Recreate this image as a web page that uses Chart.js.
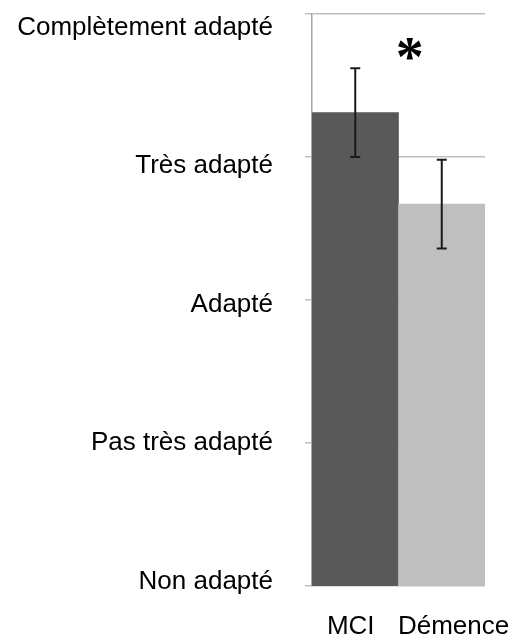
<!DOCTYPE html>
<html>
<head>
<meta charset="utf-8">
<script src="https://cdn.jsdelivr.net/npm/chart.js@4"></script>
<style>
  html, body { margin: 0; padding: 0; background: #ffffff; }
  #wrap { width: 511px; height: 634px; }
</style>
</head>
<body>
<div id="wrap"><canvas id="c" width="511" height="634"></canvas></div>
<script>
// ---- data ----
const categories = ['MCI', 'Démence'];
const meanScores = [4.31, 3.67];
const errorValues = [0.31, 0.31];
const barColors = ['#595959', '#bfbfbf'];
const tickValues = [1, 2, 3, 4, 5];
const tickLabels = ['Non adapté', 'Pas très adapté', 'Adapté', 'Très adapté', 'Complètement adapté'];
const categoryIndexes = [0, 1];
const significanceMark = { text: '*', xIndex: 0.63, value: 4.75 };

const FONT = "'Liberation Sans', Arial, Helvetica, sans-serif";

function noPad(scale) {
  scale.paddingTop = 0; scale.paddingBottom = 0;
  scale.paddingLeft = 0; scale.paddingRight = 0;
}

const errorBarPlugin = {
  id: 'errorBars',
  afterDatasetsDraw(chart) {
    const ctx = chart.ctx;
    const xs = chart.scales.x, ys = chart.scales.y;
    ctx.save();
    ctx.strokeStyle = '#1a1a1a';
    ctx.lineWidth = 2;
    meanScores.forEach((v, i) => {
      const x = xs.getPixelForValue(i);
      const yTop = ys.getPixelForValue(v + errorValues[i]);
      const yBot = ys.getPixelForValue(v - errorValues[i]);
      const cap = 5;
      ctx.beginPath();
      ctx.moveTo(x, yTop); ctx.lineTo(x, yBot);
      ctx.moveTo(x - cap, yTop); ctx.lineTo(x + cap, yTop);
      ctx.moveTo(x - cap, yBot); ctx.lineTo(x + cap, yBot);
      ctx.stroke();
    });
    // significance mark
    const mx = xs.getPixelForValue(0) + (xs.getPixelForValue(1) - xs.getPixelForValue(0)) * significanceMark.xIndex;
    const my = ys.getPixelForValue(significanceMark.value);
    ctx.fillStyle = '#000';
    ctx.font = "bold 56px 'Liberation Serif', 'Times New Roman', serif";
    ctx.textAlign = 'center';
    ctx.textBaseline = 'middle';
    ctx.fillText(significanceMark.text, mx, my + 12);
    ctx.restore();
  }
};

new Chart(document.getElementById('c'), {
  type: 'bar',
  data: {
    labels: categories,
    datasets: [{
      data: meanScores,
      backgroundColor: barColors,
      borderWidth: 0,
      categoryPercentage: 1.0,
      barPercentage: 1.0
    }]
  },
  options: {
    responsive: false,
    animation: false,
    devicePixelRatio: 1,
    layout: { padding: { top: 14, right: 26, left: 0, bottom: 0 } },
    plugins: { legend: { display: false }, tooltip: { enabled: false } },
    scales: {
      x: {
        type: 'category',
        position: 'bottom',
        weight: 0,
        grid: { display: false, drawTicks: false },
        border: { display: false },
        ticks: { display: false },
        afterFit(scale) { scale.height = 0; noPad(scale); }
      },
      xLabels: {
        type: 'linear',
        position: 'bottom',
        weight: 1,
        offset: false,
        min: -0.3767,
        max: 1.3058,
        grid: { display: false, drawTicks: false, offset: false },
        border: { display: false },
        afterBuildTicks(scale) { scale.ticks = categoryIndexes.map(v => ({ value: v })); },
        afterFit(scale) { scale.height = 48; noPad(scale); },
        ticks: {
          color: '#000',
          padding: 30,
          autoSkip: false,
          maxRotation: 0,
          minRotation: 0,
          font: { family: FONT, size: 26, lineHeight: 0.8 },
          callback: (value) => categories[categoryIndexes.indexOf(value)]
        }
      },
      y: {
        position: 'left',
        weight: 0,
        min: 1,
        max: 5,
        ticks: { display: false, stepSize: 1 },
        afterBuildTicks(scale) { scale.ticks = tickValues.map(v => ({ value: v })); },
        afterFit(scale) { noPad(scale); },
        grid: { color: '#bfbfbf', lineWidth: 1.5, tickLength: 7, drawTicks: true },
        border: { display: true, color: '#a6a6a6', width: 1.5 }
      },
      yLabels: {
        type: 'linear',
        position: 'left',
        weight: 1,
        min: 0.9675,
        max: 5.0974,
        grid: { display: false, drawTicks: false },
        border: { display: false },
        afterBuildTicks(scale) { scale.ticks = tickValues.map(v => ({ value: v })); },
        afterFit(scale) { scale.width = 305; noPad(scale); },
        ticks: {
          color: '#000',
          padding: 32,
          font: { family: FONT, size: 26 },
          callback: (value) => tickLabels[tickValues.indexOf(value)]
        }
      }
    }
  },
  plugins: [errorBarPlugin]
});
</script>
</body>
</html>
